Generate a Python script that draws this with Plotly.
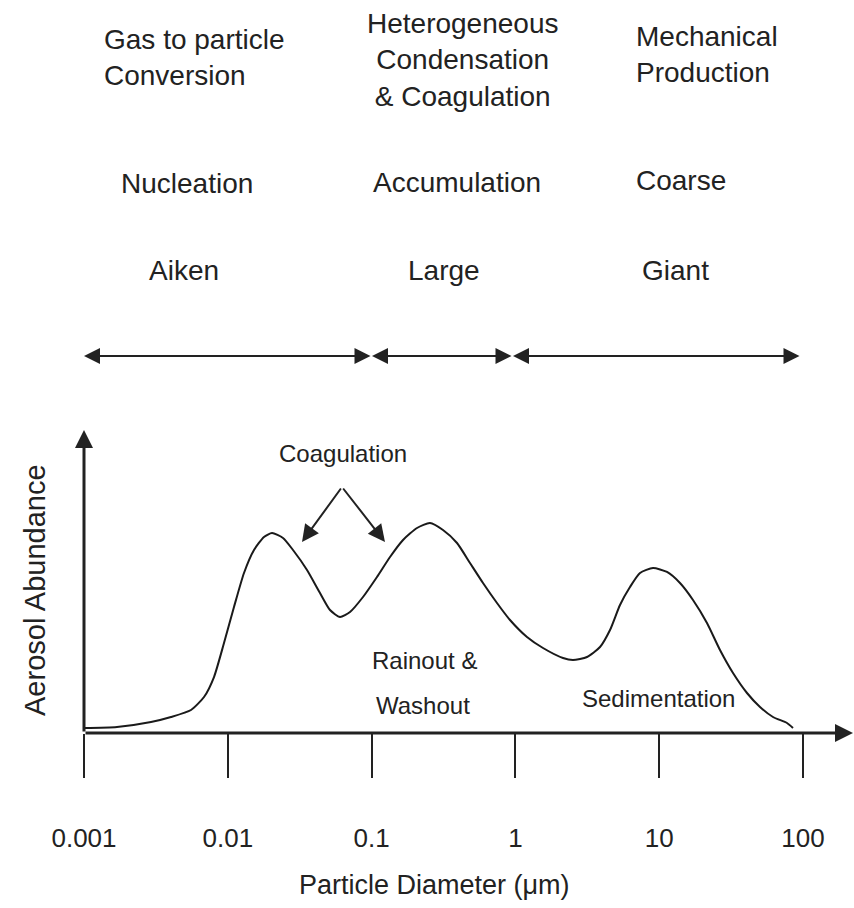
import plotly.graph_objects as go

# ---- data ----
diameter_um = [0.001000, 0.001696, 0.002924, 0.004027, 0.005547, 0.006832, 0.008017, 0.009410,
               0.01104, 0.01296, 0.01521, 0.01785, 0.02029, 0.02420, 0.02841, 0.03555,
               0.04377, 0.05137, 0.06030, 0.07076, 0.08713, 0.1090, 0.1343, 0.1654,
               0.2069, 0.2547, 0.3137, 0.3926, 0.4833, 0.5953, 0.7447, 0.9171,
               1.204, 1.556, 2.143, 2.515, 3.147, 3.876, 4.549, 5.338,
               6.264, 7.355, 9.056, 11.33, 13.95, 17.18, 21.49, 26.47,
               32.61, 40.79, 50.23, 61.85, 77.39, 85.21]
abundance = [0.0165, 0.0198, 0.0363, 0.0528, 0.0759, 0.1188, 0.1848, 0.2970,
             0.4158, 0.5281, 0.6040, 0.6469, 0.6601, 0.6436, 0.6040, 0.5380,
             0.4620, 0.4059, 0.3828, 0.3993, 0.4488, 0.5149, 0.5809, 0.6370,
             0.6766, 0.6931, 0.6700, 0.6271, 0.5611, 0.4950, 0.4290, 0.3729,
             0.3168, 0.2805, 0.2475, 0.2409, 0.2508, 0.2838, 0.3399, 0.4224,
             0.4818, 0.5281, 0.5446, 0.5314, 0.4950, 0.4389, 0.3630, 0.2739,
             0.1980, 0.1320, 0.0858, 0.0528, 0.0330, 0.0165]
tick_vals = [0.001, 0.01, 0.1, 1, 10, 100]
tick_text = ["0.001", "0.01", "0.1", "1", "10", "100"]

W, H = 854, 908
FONT = "Liberation Sans, Arial, sans-serif"


def px(x):
    return x / W


def py(y):
    return 1 - y / H


fig = go.Figure()
fig.add_trace(go.Scatter(x=diameter_um, y=abundance, mode="lines",
                         line=dict(color="#1a1a1a", width=2, shape="spline", smoothing=0.6),
                         hoverinfo="skip", showlegend=False))

fig.update_layout(
    template="none",
    width=W, height=H, margin=dict(l=0, r=0, t=0, b=0, pad=0, autoexpand=False),
    paper_bgcolor="white", plot_bgcolor="white",
    xaxis=dict(type="log", range=[-3, 2], domain=[px(84), px(803)], automargin=False,
               tickvals=tick_vals, ticktext=tick_text, ticks="outside", ticklen=44,
               tickwidth=1.5, tickcolor="#222", showline=False, showgrid=False,
               zeroline=False, ticklabelstandoff=38,
               tickfont=dict(family=FONT, size=26, color="#222"), anchor="y"),
    yaxis=dict(range=[0, 1], domain=[py(733), py(430)], visible=False, automargin=False,
               showgrid=False, zeroline=False),
)

annotations = []


def arrow(hx, hy, tx, ty, width=3, size=1.0, head=2, both=False):
    annotations.append(dict(
        x=px(hx), y=py(hy), xref="paper", yref="paper",
        ax=tx - hx, ay=ty - hy, axref="pixel", ayref="pixel",
        text="", showarrow=True, arrowhead=head, startarrowhead=head,
        arrowside="end+start" if both else "end",
        arrowsize=size, startarrowsize=size, arrowwidth=width, arrowcolor="#222"))


# axes
arrow(853, 733, 84, 733, width=3, size=1.2)
arrow(84, 430, 84, 733, width=3, size=1.2)
# range arrows
arrow(84, 356, 372, 356, width=2, size=1.6, both=True)
arrow(372, 356, 513, 356, width=2, size=1.6, both=True)
arrow(513, 356, 801, 356, width=2, size=1.6, both=True)
# coagulation arrows
arrow(302, 542, 342, 487, width=2, size=1.7)
arrow(385, 542, 342, 487, width=2, size=1.7)


def text(t, x, y, size=27, xanchor="center", align="center", angle=0):
    annotations.append(dict(x=px(x), y=py(y), xref="paper", yref="paper", text=t,
                            showarrow=False, xanchor=xanchor, yanchor="middle",
                            align=align, textangle=angle,
                            font=dict(family=FONT, size=size, color="#222")))


text("Gas to particle<br>Conversion", 102, 58, size=28, xanchor="left", align="left")
text("Heterogeneous<br>Condensation<br>& Coagulation", 462, 60, size=28)
text("Mechanical<br>Production", 634, 55, size=28, xanchor="left", align="left")
text("Nucleation", 187, 183, size=28)
text("Accumulation", 457, 182, size=28)
text("Coarse", 634, 181, size=28, xanchor="left")
text("Aiken", 184, 270, size=28)
text("Large", 444, 270, size=28)
text("Giant", 640, 270, size=28, xanchor="left")
text("Coagulation", 343, 453, size=24)
text("Rainout &", 424, 660, size=24)
text("Washout", 423, 705, size=24)
text("Sedimentation", 658, 698, size=24)
text("Particle Diameter (μm)", 434, 885, size=27)
text("Aerosol Abundance", 35, 590, size=29, angle=-90)

fig.update_layout(annotations=annotations)
fig.write_html("out.html")
